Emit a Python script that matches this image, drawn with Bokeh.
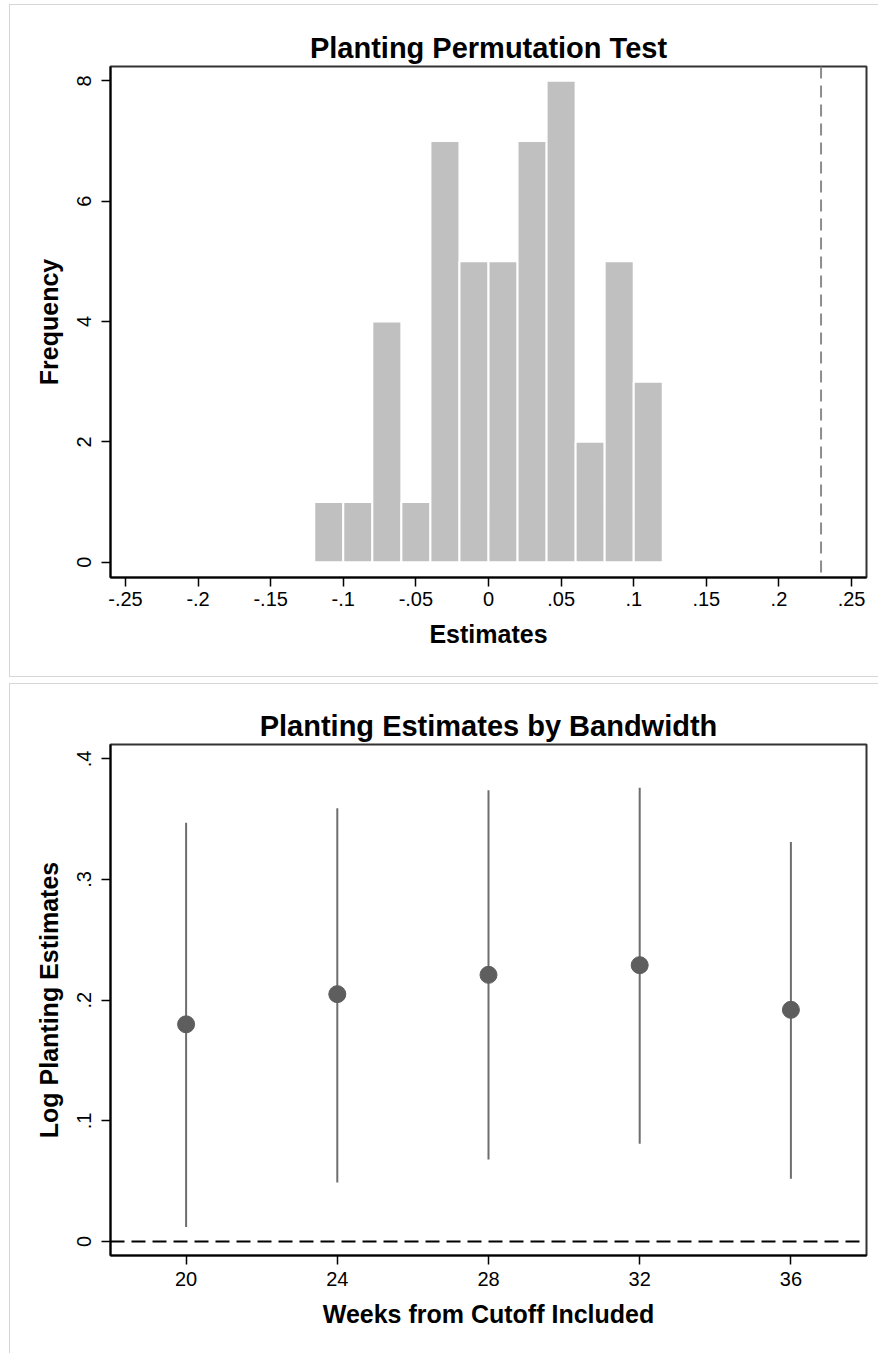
from bokeh.plotting import figure
from bokeh.models import FixedTicker, Span, Range1d, ColumnDataSource
from bokeh.layouts import column
from bokeh.embed import file_html
from bokeh.resources import INLINE

FONT = "Liberation Sans"

# ---------------- data: permutation histogram ----------------
bin_left = [-0.12, -0.10, -0.08, -0.06, -0.04, -0.02, 0.00, 0.02, 0.04, 0.06, 0.08, 0.10]
bin_width = 0.02
freq = [1, 1, 4, 1, 7, 5, 5, 7, 8, 2, 5, 3]
actual_estimate = 0.229
x1_ticks = [-0.25, -0.2, -0.15, -0.1, -0.05, 0.0, 0.05, 0.1, 0.15, 0.2, 0.25]
x1_labels = ["-.25", "-.2", "-.15", "-.1", "-.05", "0", ".05", ".1", ".15", ".2", ".25"]
y1_ticks = [0, 2, 4, 6, 8]
y1_labels = ["0", "2", "4", "6", "8"]

# ---------------- data: estimates by bandwidth ----------------
weeks = [20, 24, 28, 32, 36]
estimate = [0.180, 0.205, 0.221, 0.229, 0.192]
ci_low = [0.012, 0.049, 0.068, 0.081, 0.052]
ci_high = [0.347, 0.359, 0.374, 0.376, 0.331]
y2_ticks = [0.0, 0.1, 0.2, 0.3, 0.4]
y2_labels = ["0", ".1", ".2", ".3", ".4"]


def style(p, xticks, xlabels, yticks, ylabels, shadow):
    p.outline_line_color = "#333333"
    p.outline_line_width = 2
    p.xgrid.visible = False
    p.ygrid.visible = False
    p.background_fill_color = "white"
    p.border_fill_alpha = 0
    p.xaxis.ticker = FixedTicker(ticks=xticks)
    p.xaxis.major_label_overrides = {t: l for t, l in zip(xticks, xlabels)}
    p.yaxis.ticker = FixedTicker(ticks=yticks)
    p.yaxis.major_label_overrides = {t: l for t, l in zip(yticks, ylabels)}
    for ax in [p.xaxis[0], p.yaxis[0]]:
        ax.axis_line_width = 2
        ax.axis_line_color = "black"
        ax.major_tick_out = 9
        ax.major_tick_in = 0
        ax.major_tick_line_width = 1.5
        ax.major_tick_line_color = "black"
        ax.minor_tick_out = 0
        ax.minor_tick_in = 0
        ax.major_label_text_font = FONT
        ax.major_label_text_font_size = "20px"
        ax.major_label_text_color = "black"
        ax.axis_label_text_font = FONT
        ax.axis_label_text_font_size = "25px"
        ax.axis_label_text_font_style = "bold"
        ax.axis_label_text_color = "black"
    p.yaxis.major_label_orientation = "vertical"
    p.yaxis.major_label_standoff = 10
    p.yaxis.axis_label_standoff = 12
    p.xaxis.major_label_standoff = 5
    p.xaxis.axis_label_standoff = 11
    p.title.text_font = FONT
    p.title.text_font_size = "29px"
    p.title.text_font_style = "bold"
    p.title.text_color = "black"
    p.title.align = "center"
    p.title.standoff = 6
    p.styles = {"box-shadow": shadow, "background-color": "white"}


# ---------------- top: histogram ----------------
p1 = figure(width=869, height=673, output_backend="svg", toolbar_location=None,
            x_range=Range1d(-0.2603, 0.2603), y_range=Range1d(-0.254, 8.238),
            min_border_left=101, min_border_right=12, min_border_top=62, min_border_bottom=100,
            title="Planting Permutation Test", x_axis_label="Estimates", y_axis_label="Frequency")
p1.margin = (4, 0, 0, 9)
src1 = ColumnDataSource(dict(left=bin_left,
                             right=[b + bin_width for b in bin_left],
                             top=freq,
                             bottom=[0] * len(freq)))
p1.quad(left="left", right="right", top="top", bottom="bottom", source=src1,
        fill_color="#c0c0c0", line_color="white", line_width=2)
p1.add_layout(Span(location=actual_estimate, dimension="height", line_color="#8c8c8c",
                   line_dash="12 7", line_width=2))
style(p1, x1_ticks, x1_labels, y1_ticks, y1_labels,
      "inset 1px 1px 0 #d6d6d6, inset 0 -1px 0 #d6d6d6")

# ---------------- bottom: estimates by bandwidth ----------------
p2 = figure(width=869, height=670, output_backend="svg", toolbar_location=None,
            x_range=Range1d(18, 38), y_range=Range1d(-0.0116, 0.4119),
            min_border_left=101, min_border_right=12, min_border_top=61, min_border_bottom=98,
            title="Planting Estimates by Bandwidth", x_axis_label="Weeks from Cutoff Included",
            y_axis_label="Log Planting Estimates")
p2.margin = (0, 0, 0, 9)
p2.add_layout(Span(location=0, dimension="width", line_color="black",
                   line_dash="14 7", line_width=2))
src2 = ColumnDataSource(dict(w=weeks, est=estimate, lo=ci_low, hi=ci_high))
p2.segment(x0="w", y0="lo", x1="w", y1="hi", source=src2, line_color="#6e6e6e", line_width=2)
p2.scatter(x="w", y="est", source=src2, size=17, fill_color="#5e5e5e", line_color="#5e5e5e")
style(p2, weeks, [str(w) for w in weeks], y2_ticks, y2_labels, "inset 1px 1px 0 #d6d6d6")
p2.xaxis.major_label_standoff = 7

layout = column(p1, p2, spacing=6)
open("out.html", "w").write(file_html(layout, INLINE))
